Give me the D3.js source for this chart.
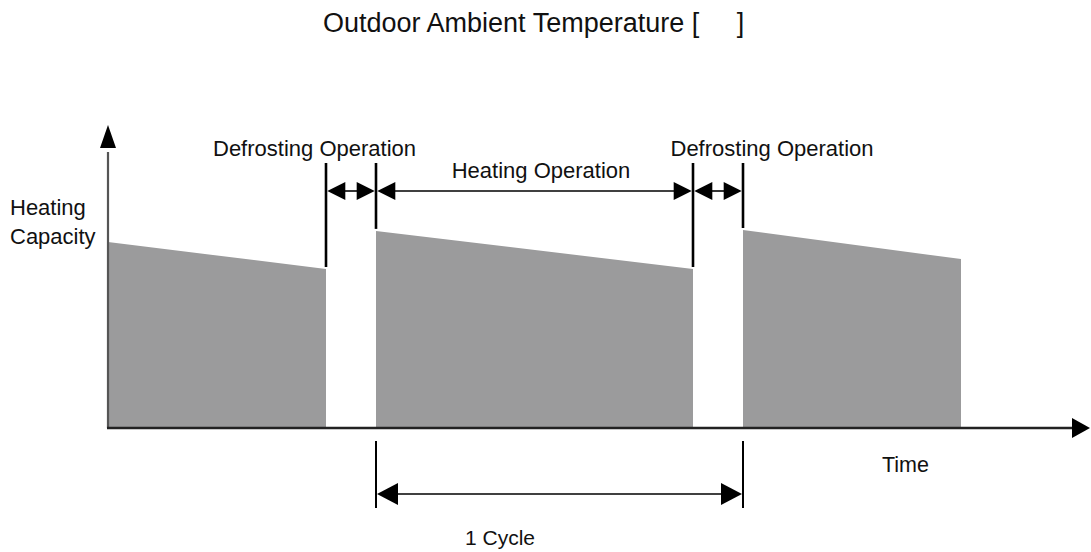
<!DOCTYPE html>
<html>
<head>
<meta charset="utf-8">
<script src="https://cdn.jsdelivr.net/npm/d3@7"></script>
<style>
  html, body { margin: 0; padding: 0; background: #fff; }
  svg { display: block; }
  text { font-family: "Liberation Sans", Arial, Helvetica, sans-serif; fill: #111; }
</style>
</head>
<body>
<svg id="chart" width="1091" height="552"></svg>
<script>
// Heating periods: time at start/end and capacity at start/end (relative units)
const segStart = [0, 26.8, 63.5];
const segEnd   = [21.8, 58.5, 85.3];
const capStart = [62, 65.7, 66];
const capEnd   = [53, 53, 56.3];

// Operation intervals annotated above the chart
const opStart = [21.8, 26.8, 58.5];
const opEnd   = [26.8, 58.5, 63.5];
const opLabel = ["Defrosting Operation", "Heating Operation", "Defrosting Operation"];
// where each label is centred along the time axis
const opLabelT = [20.65, 43.3, 66.4];

// One full cycle (heating + defrosting)
const cycleStart = 26.8;
const cycleEnd = 63.5;

const titleText = "Outdoor Ambient Temperature [     ]";
const yLabel = ["Heating", "Capacity"];
const xLabel = "Time";
const cycleLabel = "1 Cycle";

const svg = d3.select("#chart");
const x = d3.scaleLinear().domain([0, 98.3]).range([108, 1091]);
const y = d3.scaleLinear().domain([0, 100]).range([428, 128]);

const fill = "#9b9b9c";

// Title
svg.append("text")
  .attr("x", 323).attr("y", 32)
  .style("font-size", "27px")
  .style("white-space", "pre")
  .attr("xml:space", "preserve")
  .text(titleText);

// Capacity areas
const area = d3.area()
  .x(d => x(d.t))
  .y0(y(0))
  .y1(d => y(d.c));
segStart.forEach((s, i) => {
  svg.append("path")
    .datum([{ t: s, c: capStart[i] }, { t: segEnd[i], c: capEnd[i] }])
    .attr("d", area)
    .attr("fill", fill);
});

// Triangle arrowhead; tip at (tx, ty), pointing in direction dir (-1 left, 1 right)
function headH(g, tx, ty, dir, len, half) {
  g.append("path")
    .attr("d", `M${tx},${ty} L${tx - dir * len},${ty - half} L${tx - dir * len},${ty + half} Z`)
    .attr("fill", "#000");
}

// Y axis with arrow
svg.append("line")
  .attr("x1", x(0)).attr("x2", x(0))
  .attr("y1", y(0)).attr("y2", y(92))
  .attr("stroke", "#555").attr("stroke-width", 2.2);
svg.append("path")
  .attr("d", `M${x(0)},${y(101)} L${x(0) - 8},${y(93.3)} L${x(0) + 8},${y(93.3)} Z`)
  .attr("fill", "#000");

// X axis with arrow
svg.append("line")
  .attr("x1", x(0) - 1).attr("x2", x(96.5))
  .attr("y1", y(0)).attr("y2", y(0))
  .attr("stroke", "#222").attr("stroke-width", 2.6);
headH(svg, x(98.2), y(0), 1, 18, 10);

// Operation markers: vertical lines at each interval boundary
const markerTimes = Array.from(new Set(opStart.concat(opEnd)));
function capAt(t) {
  for (let i = 0; i < segStart.length; i++) {
    if (t >= segStart[i] - 0.05 && t <= segEnd[i] + 0.05) {
      const k = (t - segStart[i]) / (segEnd[i] - segStart[i]);
      return capStart[i] + k * (capEnd[i] - capStart[i]);
    }
  }
  return 0;
}
markerTimes.forEach(t => {
  svg.append("line")
    .attr("x1", x(t)).attr("x2", x(t))
    .attr("y1", 163).attr("y2", y(capAt(t)) - 2)
    .attr("stroke", "#000").attr("stroke-width", 2.6);
});

// Double-headed arrows for each operation interval
const arrowY = 191;
opStart.forEach((s, i) => {
  const x0 = x(s) + 1.3, x1 = x(opEnd[i]) - 1.3;
  svg.append("line")
    .attr("x1", x0 + 10).attr("x2", x1 - 10)
    .attr("y1", arrowY).attr("y2", arrowY)
    .attr("stroke", "#000").attr("stroke-width", 1.6);
  headH(svg, x0, arrowY, -1, 18, 9);
  headH(svg, x1, arrowY, 1, 18, 9);
});

// Operation labels
const labelY = [156, 178, 156];
opLabel.forEach((lab, i) => {
  svg.append("text")
    .attr("x", x(opLabelT[i]))
    .attr("y", labelY[i])
    .attr("text-anchor", "middle")
    .style("font-size", "22px")
    .text(lab);
});

// Axis labels
yLabel.forEach((lab, i) => {
  svg.append("text")
    .attr("x", 10).attr("y", 215 + i * 29)
    .style("font-size", "22px")
    .text(lab);
});
svg.append("text")
  .attr("x", 882).attr("y", 472)
  .style("font-size", "21.5px")
  .text(xLabel);

// Cycle bracket
[cycleStart, cycleEnd].forEach(t => {
  svg.append("line")
    .attr("x1", x(t)).attr("x2", x(t))
    .attr("y1", 441).attr("y2", 508)
    .attr("stroke", "#000").attr("stroke-width", 2);
});
const cy = 494;
svg.append("line")
  .attr("x1", x(cycleStart) + 12).attr("x2", x(cycleEnd) - 12)
  .attr("y1", cy).attr("y2", cy)
  .attr("stroke", "#000").attr("stroke-width", 1.6);
headH(svg, x(cycleStart) + 1, cy, -1, 21, 11);
headH(svg, x(cycleEnd) - 1, cy, 1, 21, 11);
svg.append("text")
  .attr("x", 465).attr("y", 545)
  .style("font-size", "21px")
  .text(cycleLabel);
</script>
</body>
</html>
